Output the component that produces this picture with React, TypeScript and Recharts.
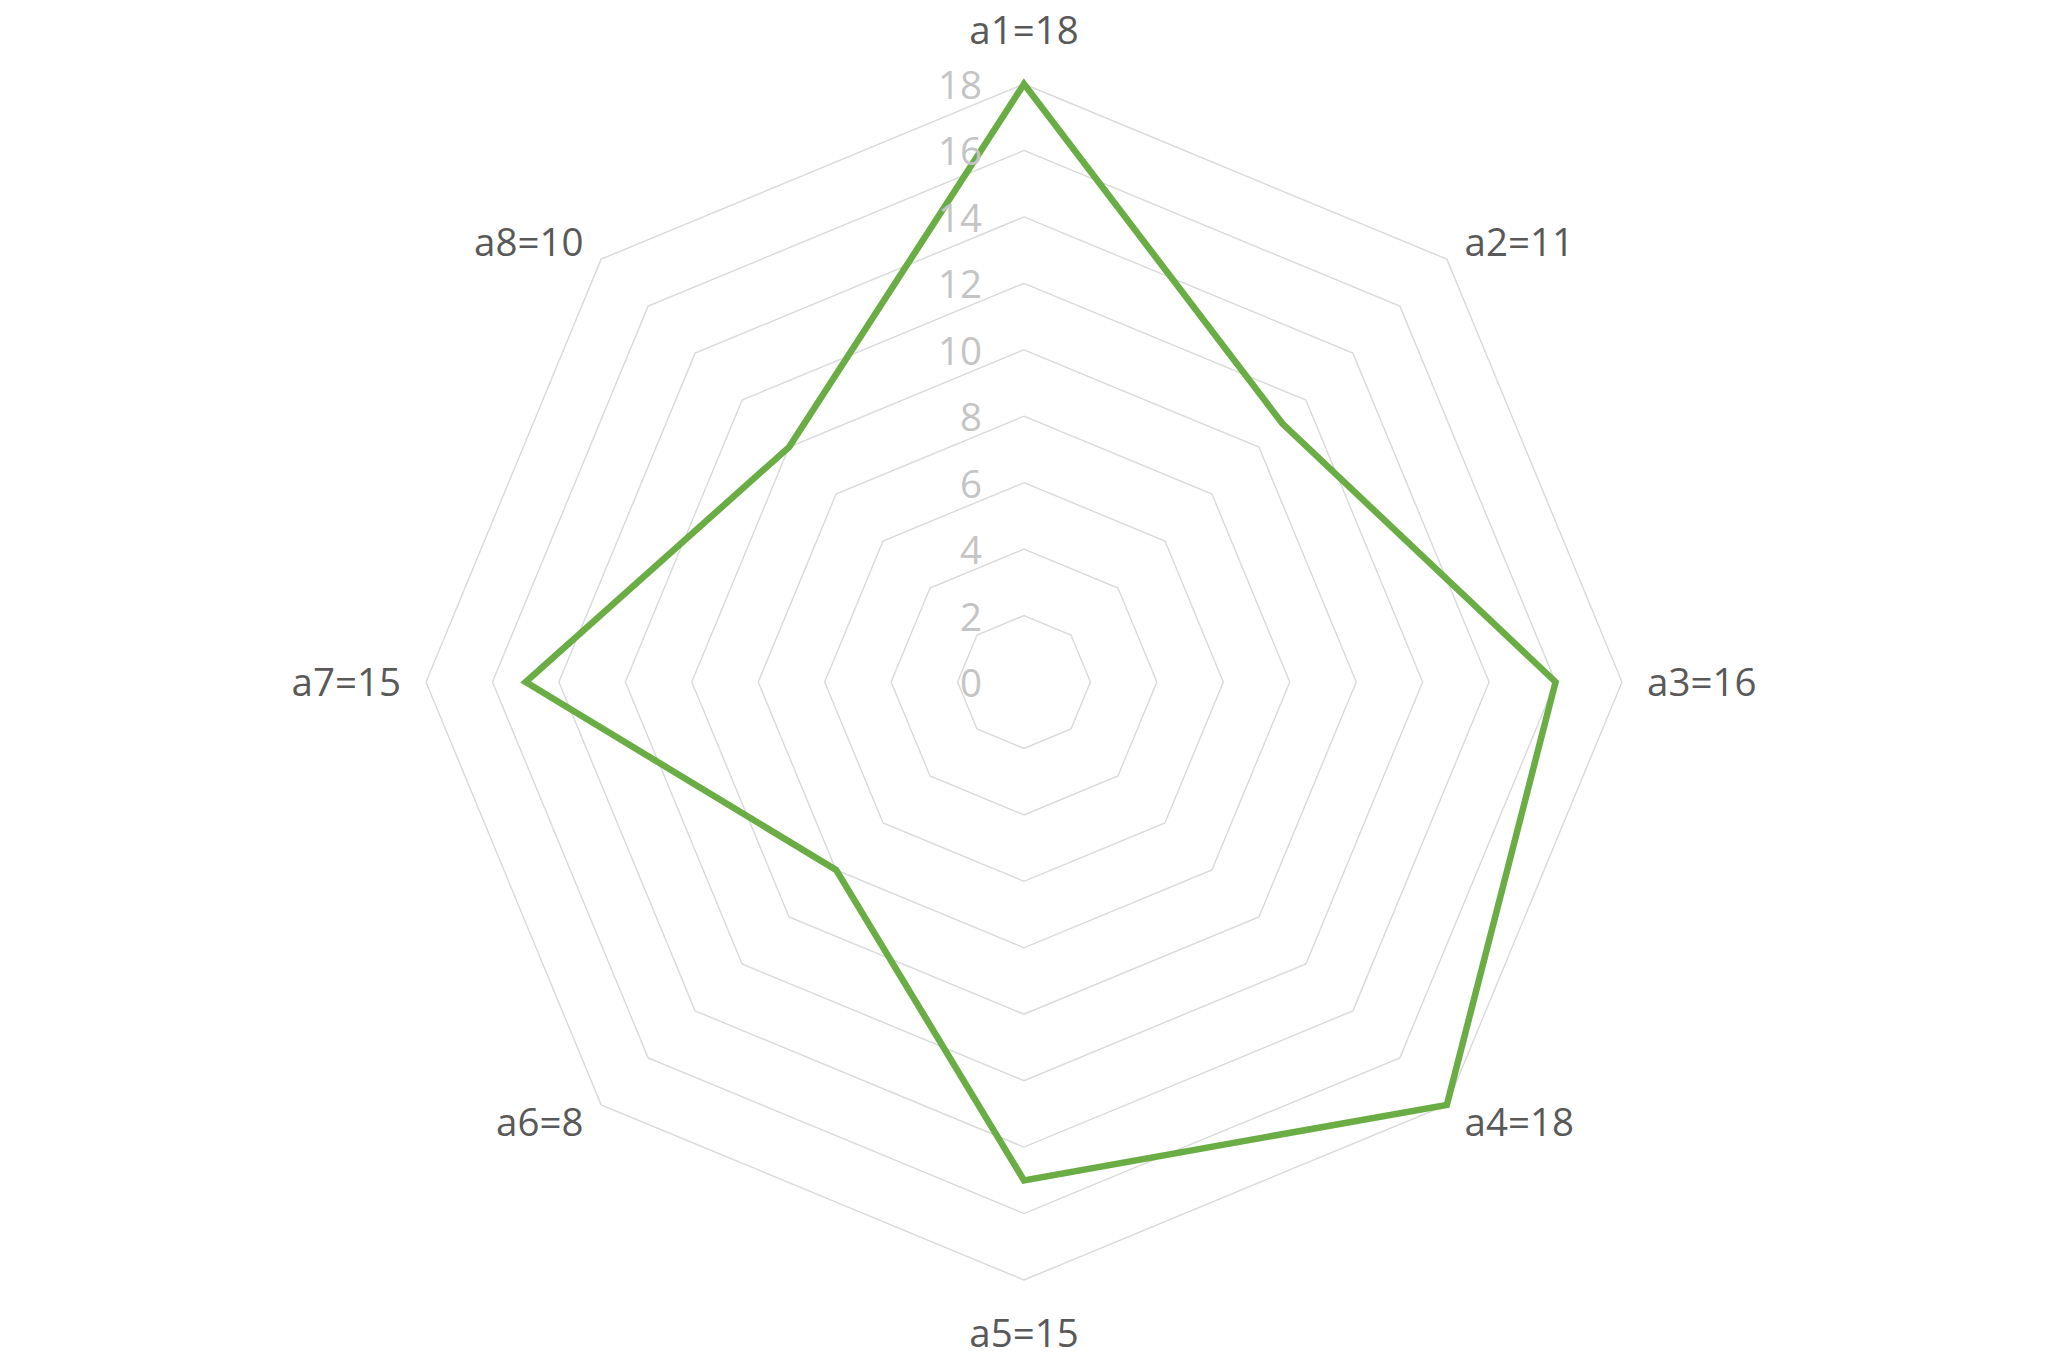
import { RadarChart, Radar, PolarGrid, PolarAngleAxis, PolarRadiusAxis } from 'recharts';

const WIDTH = 2048;
const HEIGHT = 1365;
const CX = 1024;
const CY = 682;
const OUTER = 598;
const FONT = '"Open Sans", "Noto Sans", sans-serif';

// categories and values
const categories = ['a1', 'a2', 'a3', 'a4', 'a5', 'a6', 'a7', 'a8'];
const values = [18, 11, 16, 18, 15, 8, 15, 10];
const radiusTicks = [0, 2, 4, 6, 8, 10, 12, 14, 16, 18];

const data = categories.map((name, i) => ({ name, value: values[i], label: `${name}=${values[i]}` }));

// category label: pushed out past the outer ring, aligned by direction
function AngleTick(props: any) {
    const { x, y, index } = props;
    const dx = x - CX;
    const dy = y - CY;
    const len = Math.sqrt(dx * dx + dy * dy) || 1;
    const ux = dx / len;
    const uy = dy / len;
    const text = data[index] ? data[index].label : props.payload.value;

    let tx = CX + ux * 623;
    let ty = CY + uy * 622 + 14;
    let anchor = 'middle';
    if (Math.abs(ux) < 0.01) {
        tx = CX;
        ty = uy < 0 ? CY - 638 : CY + 665;
    } else {
        anchor = ux > 0 ? 'start' : 'end';
    }
    return (
        <text x={tx} y={ty} textAnchor={anchor} fill="#595959" fontSize={38.5} fontFamily={FONT}>
            {text}
        </text>
    );
}

function RadiusTick(props: any) {
    const { y, payload } = props;
    return (
        <text x={CX - 42} y={y + 15} textAnchor="end" fill="#c4c4c4" fontSize={38.5} fontFamily={FONT}>
            {payload.value}
        </text>
    );
}

export default function App() {
    return (
        <div style={{ position: 'absolute', left: 0, top: 0, width: WIDTH, height: HEIGHT, background: '#fff' }}>
            <RadarChart width={WIDTH} height={HEIGHT} cx={CX} cy={CY} outerRadius={OUTER} data={data}
                margin={{ top: 0, right: 0, bottom: 0, left: 0 }}>
                <PolarGrid gridType="polygon" radialLines={false} stroke="#d9d9d9" strokeWidth={1.4} />
                <PolarAngleAxis dataKey="name" tick={<AngleTick />} tickLine={false} axisLine={false} />
                <PolarRadiusAxis angle={90} domain={[0, 18]} ticks={radiusTicks as any} tickCount={10}
                    tick={<RadiusTick />} tickLine={false} axisLine={false} />
                <Radar dataKey="value" stroke="#6aad45" strokeWidth={6.5} fill="none" fillOpacity={0}
                    dot={false} isAnimationActive={false} />
            </RadarChart>
        </div>
    );
}
